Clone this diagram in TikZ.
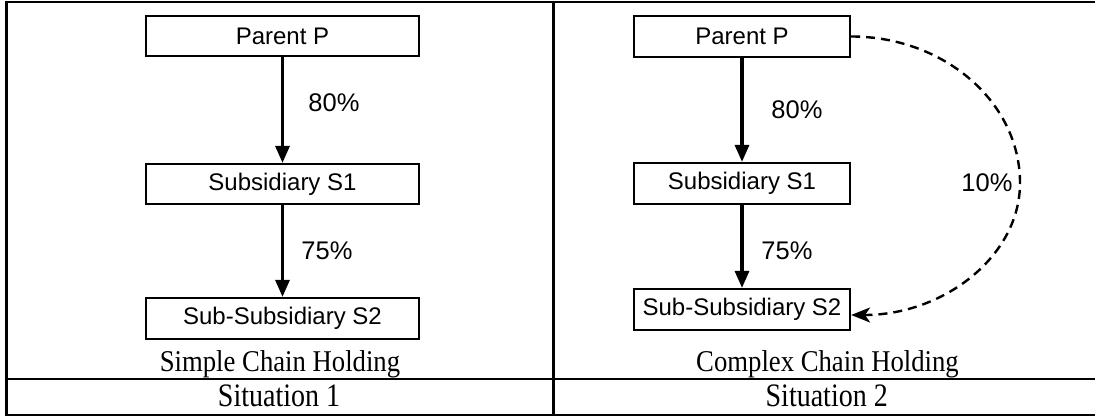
\documentclass[tikz,border=0pt]{standalone}
\usepackage{graphicx}
\usepackage{fontspec}
\setmainfont{Liberation Serif}
\newfontfamily\arialfont{Liberation Sans}
\usetikzlibrary{arrows.meta,calc}
\newcommand{\tallish}[2]{\scalebox{1}[#1]{#2}}
\begin{document}
\begin{tikzpicture}[x=1pt,y=-1pt,
  frame/.style={line width=2.2pt},
  entity/.style={draw, line width=2.2pt, inner sep=0pt,
    font=\arialfont\fontsize{24}{28}\selectfont},
  leftbox/.style={entity, minimum width=273pt, minimum height=40pt},
  rightbox/.style={entity, minimum width=216pt, minimum height=41pt},
  share/.style={font=\arialfont\fontsize{25.5}{30}\selectfont, inner sep=0pt},
  caption/.style={font=\fontsize{26.7}{32}\selectfont, inner sep=0pt, anchor=base},
  situation/.style={font=\fontsize{28}{34}\selectfont, inner sep=0pt, anchor=base},
  holds/.style={line width=3.2pt, -{Triangle[length=17pt,width=14pt]}},
  minority/.style={line width=2.4pt, dash pattern=on 9pt off 6pt,
    -{Stealth[length=19pt,width=15pt,inset=5pt]}}
]
\useasboundingbox (0,0) rectangle (1095,417);

% table frame
\draw[frame] (1095,2) -- (6.5,2) -- (6.5,415) -- (1095,415);
\draw[frame] (6.5,379) -- (1095,379);
\draw[frame] (553.5,2) -- (553.5,415);

% situation 1: simple chain
\node[leftbox] (p1)  at (282.5,36)  {Parent P};
\node[leftbox] (s1a) at (282.5,184) {Subsidiary S1};
\node[leftbox, minimum height=41pt] (s2a) at (282.5,318.5) {Sub-Subsidiary S2};
\draw[holds] (p1) -- (s1a);
\draw[holds] (s1a) -- (s2a);
\node[share] (l80a) at (334,103) {80\%};
\node[share] (l75a) at (327,251) {75\%};
\node[caption] (capa) at (280,371.7) {\tallish{1.13}{Simple Chain Holding}};
\node[situation] (sita) at (279,406.7) {\tallish{1.17}{Situation 1}};

% situation 2: complex chain
\node[rightbox] (p2)  at (742,36.5) {Parent P};
\node[rightbox] (s1b) at (742,183.5) {Subsidiary S1};
\node[rightbox] (s2b) at (742,309.5) {Sub-Subsidiary S2};
\draw[holds] (p2) -- (s1b);
\draw[holds] (s1b) -- (s2b);
\coordinate (bulge) at (1020,183);
\draw[minority] (p2.east) .. controls (944,36.5) and (1020,102) .. (bulge)
  .. controls (1020,256) and (944,315) .. ($(s2b.east)+(0,5.5)$);
\node[share] (l80b) at (797,110) {80\%};
\node[share] (l75b) at (787,251) {75\%};
\node[share] (l10b) at (987,183) {10\%};
\node[caption] (capb) at (827.5,371.7) {\tallish{1.13}{Complex Chain Holding}};
\node[situation] (sitb) at (826.7,406.7) {\tallish{1.17}{Situation 2}};
\end{tikzpicture}
\end{document}
